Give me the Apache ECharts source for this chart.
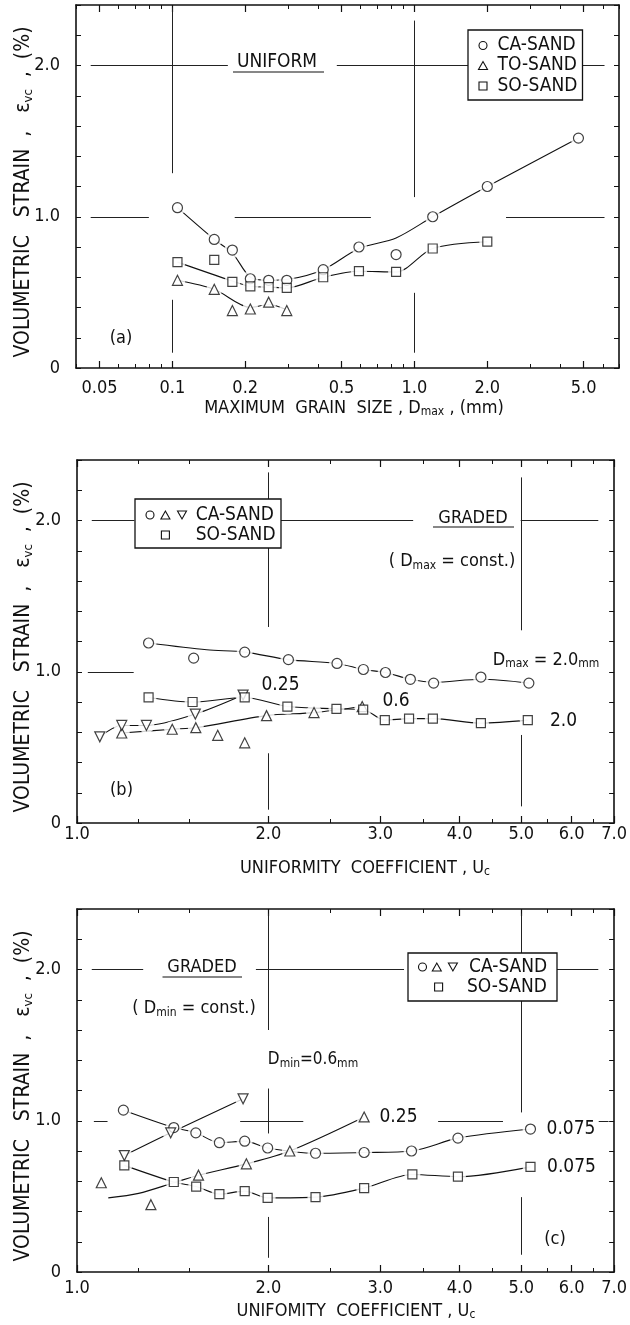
<!DOCTYPE html>
<html><head><meta charset="utf-8">
<script src="https://cdn.jsdelivr.net/npm/echarts@6/dist/echarts.min.js"></script>
<style>html,body{margin:0;padding:0;background:#fff}#c{width:630px;height:1325px}</style>
</head><body><div id="c"></div>
<script>
const FONT = "'DejaVu Sans Condensed','Liberation Sans Narrow','Roboto Condensed',sans-serif";
const INK = '#111';

// ---------- Panel (a): uniform sands, x = Dmax (mm) ----------
const aCaX = [0.105, 0.149, 0.177, 0.21, 0.25, 0.297, 0.42, 0.59, 0.84, 1.19, 2.0, 4.76];
const aCaY = [1.06, 0.85, 0.78, 0.59, 0.58, 0.58, 0.65, 0.80, 0.75, 1.00, 1.20, 1.52];
const aToX = [0.105, 0.149, 0.177, 0.21, 0.25, 0.297];
const aToY = [0.58, 0.52, 0.38, 0.39, 0.435, 0.38];
const aSoX = [0.105, 0.149, 0.177, 0.21, 0.25, 0.297, 0.42, 0.59, 0.84, 1.19, 2.0];
const aSoY = [0.70, 0.715, 0.57, 0.54, 0.535, 0.53, 0.60, 0.64, 0.635, 0.79, 0.835];
// fitted curves (a)
const aCaCurveX = [0.105, 0.149, 0.177, 0.21, 0.25, 0.297, 0.42, 0.59, 0.84, 1.19, 2.0, 4.76];
const aCaCurveY = [1.06, 0.85, 0.76, 0.60, 0.58, 0.585, 0.65, 0.79, 0.86, 1.00, 1.20, 1.52];
const aToCurveX = [0.105, 0.149, 0.21, 0.25, 0.297];
const aToCurveY = [0.58, 0.52, 0.40, 0.42, 0.385];
const aSoCurveX = [0.105, 0.177, 0.21, 0.25, 0.297, 0.42, 0.59, 0.84, 1.19, 2.0];
const aSoCurveY = [0.70, 0.575, 0.54, 0.535, 0.53, 0.60, 0.64, 0.635, 0.79, 0.835];

// ---------- Panel (b): graded, Dmax const, x = Uc ----------
const bCaX = [1.296, 1.526, 1.836, 2.151, 2.565, 2.822, 3.057, 3.346, 3.64, 4.32, 5.14];
const bCaY = [1.19, 1.09, 1.13, 1.08, 1.055, 1.015, 0.995, 0.95, 0.925, 0.965, 0.925];
const bUpX = [1.176, 1.412, 1.538, 1.665, 1.836, 1.987, 2.36, 2.81];
const bUpY = [0.595, 0.62, 0.63, 0.58, 0.53, 0.71, 0.73, 0.77];
const bDnX = [1.086, 1.176, 1.286, 1.535, 1.825];
const bDnY = [0.57, 0.645, 0.645, 0.72, 0.846];
const bSoX = [1.296, 1.52, 1.836, 2.143, 2.56, 2.82, 3.05, 3.33, 3.63, 4.32, 5.12];
const bSoY = [0.83, 0.80, 0.83, 0.77, 0.755, 0.75, 0.68, 0.69, 0.69, 0.66, 0.68];
const bCaCurveX = [1.296, 1.6, 1.836, 2.151, 2.565, 2.822, 3.057, 3.346, 3.64, 4.32, 5.14];
const bCaCurveY = [1.19, 1.145, 1.13, 1.08, 1.055, 1.015, 0.995, 0.95, 0.93, 0.95, 0.925];
const bUpCurveX = [1.176, 1.412, 1.538, 1.987, 2.36, 2.81];
const bUpCurveY = [0.595, 0.62, 0.63, 0.71, 0.73, 0.77];
const bDnCurveX = bDnX, bDnCurveY = bDnY;
const bSoCurveX = bSoX, bSoCurveY = bSoY;

// ---------- Panel (c): graded, Dmin const, x = Uc ----------
const cCaX = [1.183, 1.42, 1.538, 1.675, 1.836, 1.995, 2.373, 2.83, 3.36, 3.975, 5.17];
const cCaY = [1.07, 0.955, 0.92, 0.855, 0.865, 0.82, 0.785, 0.79, 0.80, 0.885, 0.945];
const cUpX = [1.092, 1.307, 1.553, 1.847, 2.162, 2.83];
const cUpY = [0.59, 0.445, 0.64, 0.715, 0.80, 1.025];
const cDnX = [1.187, 1.404, 1.825];
const cDnY = [0.77, 0.92, 1.145];
const cSoX = [1.187, 1.42, 1.54, 1.675, 1.836, 1.995, 2.373, 2.83, 3.37, 3.975, 5.17];
const cSoY = [0.705, 0.595, 0.565, 0.515, 0.535, 0.49, 0.495, 0.555, 0.645, 0.63, 0.695];
const cCaCurveX = cCaX, cCaCurveY = cCaY;
const cUpCurveX = [1.12, 1.25, 1.42, 1.553, 1.847, 2.162, 2.83];
const cUpCurveY = [0.49, 0.52, 0.59, 0.64, 0.715, 0.80, 1.025];
const cDnCurveX = cDnX, cDnCurveY = cDnY;
const cSoCurveX = cSoX, cSoCurveY = cSoY;

// ---------- Axis ticks ----------
const aMajor = [0.05, 0.1, 0.2, 0.5, 1.0, 2.0, 5.0];
const aMajorText = ['0.05', '0.1', '0.2', '0.5', '1.0', '2.0', '5.0'];
const aMinor = [0.04, 0.06, 0.07, 0.08, 0.09, 0.3, 0.4, 0.6, 0.7, 0.8, 0.9, 3, 4, 6, 7];
const ucMajor = [1, 2, 3, 4, 5, 6, 7];
const ucMajorText = ['1.0', '2.0', '3.0', '4.0', '5.0', '6.0', '7.0'];
const ucMinor = [1.25, 1.5, 2.5, 3.5, 4.5, 5.5, 6.5];
const yLabelVals = [0, 1, 2];
const yLabelText = ['0', '1.0', '2.0'];

// ---------- Broken reference lines [level, from, to] ----------
const aHSeg = [[2, 0.046, 0.1696], [2, 0.478, 1.664], [2, 4.95, 6.1], [1, 0.046, 0.080], [1, 0.181, 0.661], [1, 2.39, 6.1]];
const aVSeg = [[0.1, 1.288, 2.382], [0.1, 0.101, 0.451], [1.0, 1.13, 2.297], [1.0, 0.101, 0.497]];
const bHSeg = [[2, 1.055, 1.231], [2, 2.08, 3.38], [2, 4.99, 6.61], [1, 1.04, 1.228]];
const bVSeg = [[2, 1.296, 2.318], [2, 0.088, 0.461], [5, 1.274, 2.285], [5, 0.11, 0.582]];
const cHSeg = [[2, 1.055, 1.271], [2, 1.912, 3.27], [2, 5.58, 6.61], [1, 1.063, 1.117], [1, 1.806, 2.27], [1, 3.70, 4.68], [1, 6.62, 6.86]];
const cVSeg = [[2, 1.60, 2.37], [2, 0.916, 1.213], [2, 0.094, 0.364], [5, 1.055, 2.37], [5, 0.114, 0.495]];

// ================= build =================
const L = v => Math.log10(v);
const pts = (xs, ys) => xs.map((x, i) => [L(x), ys[i]]);

const grids = [
  {left: 76, top: 5, width: 543, height: 363},
  {left: 77, top: 460, width: 542, height: 363},
  {left: 77, top: 909, width: 542, height: 363}
];
const xr = [[L(0.04), L(7)], [0, L(7)], [0, L(7)]];
const labelMargins = [11, 2, 7];

const xAxes = [], yAxes = [];
function addAxes(g, major, majorText, minor) {
  const mv = major.map(L), nv = minor.map(L);
  const fmt = v => { for (let i = 0; i < mv.length; i++) if (Math.abs(mv[i] - v) < 1e-6) return majorText[i]; return ''; };
  const base = {gridIndex: g, type: 'value', min: xr[g][0], max: xr[g][1], splitLine: {show: false}};
  const line = {show: true, onZero: false, lineStyle: {color: INK, width: 1.6}};
  ['bottom', 'top'].forEach(pos => {
    xAxes.push(Object.assign({}, base, {position: pos, axisLine: line,
      axisTick: {show: true, inside: true, length: 7, customValues: mv, lineStyle: {color: INK, width: 1.2}},
      axisLabel: pos === 'bottom' ? {show: true, customValues: mv, formatter: fmt, margin: labelMargins[g], color: INK, fontSize: 18, fontFamily: FONT} : {show: false}}));
    xAxes.push(Object.assign({}, base, {position: pos, axisLine: {show: false, onZero: false},
      axisTick: {show: true, inside: true, length: 4, customValues: nv, lineStyle: {color: INK, width: 1}},
      axisLabel: {show: false}}));
  });
  const yfmt = v => { for (let i = 0; i < yLabelVals.length; i++) if (Math.abs(yLabelVals[i] - v) < 1e-6) return yLabelText[i]; return ''; };
  const ybase = {gridIndex: g, type: 'value', min: 0, max: 2.4, interval: 0.2, splitLine: {show: false}, axisLine: line,
    axisTick: {show: true, inside: true, length: 5, lineStyle: {color: INK, width: 1}}};
  yAxes.push(Object.assign({}, ybase, {position: 'left', axisLabel: {show: true, customValues: yLabelVals, formatter: yfmt, margin: 16, color: INK, fontSize: 18, fontFamily: FONT}}));
  yAxes.push(Object.assign({}, ybase, {position: 'right', axisLabel: {show: false}}));
}
addAxes(0, aMajor, aMajorText, aMinor);
addAxes(1, ucMajor, ucMajorText, ucMinor);
addAxes(2, ucMajor, ucMajorText, ucMinor);

const series = [];
function ax(g) { return {xAxisIndex: 4 * g, yAxisIndex: 2 * g}; }
function segs(g, h, v) {
  const data = [];
  h.forEach(s => data.push({coords: [[L(s[1]), s[0]], [L(s[2]), s[0]]]}));
  v.forEach(s => data.push({coords: [[L(s[0]), s[1]], [L(s[0]), s[2]]]}));
  series.push(Object.assign({type: 'lines', coordinateSystem: 'cartesian2d', silent: true, z: 1,
    lineStyle: {color: '#222', width: 1, opacity: 1}, data}, ax(g)));
}
function curve(g, xs, ys) {
  series.push(Object.assign({type: 'line', data: pts(xs, ys), showSymbol: false, smooth: 0.3, silent: true, z: 2,
    lineStyle: {color: INK, width: 1.1}}, ax(g)));
}
function knock(g, xs, ys) {
  series.push(Object.assign({type: 'scatter', data: pts(xs, ys), symbol: 'circle', symbolSize: 16, silent: true, z: 3,
    itemStyle: {color: '#fff'}}, ax(g)));
}
function marks(g, xs, ys, sym, size, rot) {
  series.push(Object.assign({type: 'scatter', data: pts(xs, ys), symbol: sym, symbolSize: size, symbolRotate: rot || 0, z: 4,
    itemStyle: {color: '#fff', borderColor: INK, borderWidth: 1.2}}, ax(g)));
}

segs(0, aHSeg, aVSeg);
curve(0, aCaCurveX, aCaCurveY); curve(0, aToCurveX, aToCurveY); curve(0, aSoCurveX, aSoCurveY);
knock(0, aCaX, aCaY); knock(0, aToX, aToY); knock(0, aSoX, aSoY);
marks(0, aCaX, aCaY, 'circle', 10); marks(0, aToX, aToY, 'triangle', 10); marks(0, aSoX, aSoY, 'rect', 9);

segs(1, bHSeg, bVSeg);
curve(1, bCaCurveX, bCaCurveY); curve(1, bUpCurveX, bUpCurveY); curve(1, bDnCurveX, bDnCurveY); curve(1, bSoCurveX, bSoCurveY);
knock(1, bCaX, bCaY); knock(1, bUpX, bUpY); knock(1, bDnX, bDnY); knock(1, bSoX, bSoY);
marks(1, bCaX, bCaY, 'circle', 10); marks(1, bUpX, bUpY, 'triangle', 10); marks(1, bDnX, bDnY, 'triangle', 10, 180); marks(1, bSoX, bSoY, 'rect', 9);

segs(2, cHSeg, cVSeg);
curve(2, cCaCurveX, cCaCurveY); curve(2, cUpCurveX, cUpCurveY); curve(2, cDnCurveX, cDnCurveY); curve(2, cSoCurveX, cSoCurveY);
knock(2, cCaX, cCaY); knock(2, cUpX, cUpY); knock(2, cDnX, cDnY); knock(2, cSoX, cSoY);
marks(2, cCaX, cCaY, 'circle', 10); marks(2, cUpX, cUpY, 'triangle', 10); marks(2, cDnX, cDnY, 'triangle', 10, 180); marks(2, cSoX, cSoY, 'rect', 9);

// ---------- graphic annotations ----------
const G = [];
const sub = {fontSize: 12, fontFamily: FONT, fill: INK, verticalAlign: 'bottom', lineHeight: 20};
function text(x, y, t, size, align, extra) {
  G.push(Object.assign({type: 'text', x, y, z: 100, style: {text: t, fontSize: size || 18, fontFamily: FONT, fill: INK,
    align: align || 'center', verticalAlign: 'middle',
    rich: {n: {fontSize: size || 18, fontFamily: FONT, fill: INK, lineHeight: 20}, s: Object.assign({}, sub)}}}, extra || {}));
}
function hline(x1, x2, y) { G.push({type: 'line', z: 100, shape: {x1, y1: y, x2, y2: y}, style: {stroke: INK, lineWidth: 1.2}}); }
function box(x, y, w, h) { G.push({type: 'rect', z: 99, shape: {x, y, width: w, height: h}, style: {fill: '#fff', stroke: INK, lineWidth: 1.3}}); }
function circ(x, y) { G.push({type: 'circle', z: 100, shape: {cx: x, cy: y, r: 4}, style: {fill: '#fff', stroke: INK, lineWidth: 1.1}}); }
function sq(x, y) { G.push({type: 'rect', z: 100, shape: {x: x - 4, y: y - 4, width: 8, height: 8}, style: {fill: '#fff', stroke: INK, lineWidth: 1.1}}); }
function tri(x, y, down) {
  const p = down ? [[x - 4.5, y - 4], [x + 4.5, y - 4], [x, y + 4]] : [[x - 4.5, y + 4], [x + 4.5, y + 4], [x, y - 4]];
  G.push({type: 'polygon', z: 100, shape: {points: p}, style: {fill: '#fff', stroke: INK, lineWidth: 1.1}});
}
const yTitle = '{n|VOLUMETRIC   STRAIN  ,   ε}{s|vc}{n|  ,  (%)}';
[192, 647, 1096].forEach(cy => G.push({type: 'text', x: 24, y: cy, z: 100, rotation: Math.PI / 2,
  style: {text: yTitle, fontSize: 21, fontFamily: FONT, fill: INK, align: 'center', verticalAlign: 'middle',
    rich: {n: {fontSize: 21, fontFamily: FONT, fill: INK, lineHeight: 22}, s: {fontSize: 13, fontFamily: FONT, fill: INK, verticalAlign: 'bottom', lineHeight: 22}}}}));

// (a)
text(354, 408, '{n|MAXIMUM  GRAIN  SIZE , D}{s|max}{n| , (mm)}', 18);
text(277, 62.5, 'UNIFORM', 19); hline(233, 324, 72);
box(468, 30, 114.5, 70);
circ(483, 45.5); text(497.5, 45.5, 'CA-SAND', 19, 'left');
tri(483, 65.5); text(497.5, 65.5, 'TO-SAND', 19, 'left');
sq(483, 86); text(497.5, 86, 'SO-SAND', 19, 'left');
text(121, 338, '(a)', 18);

// (b)
text(365, 868, '{n|UNIFORMITY  COEFFICIENT , U}{s|c}', 18);
box(135, 499, 146, 49);
circ(150, 515); tri(165.4, 515); tri(182, 515, true); text(195.7, 515, 'CA-SAND', 19, 'left');
sq(165.4, 535); text(195.7, 535, 'SO-SAND', 19, 'left');
text(473, 518.5, 'GRADED', 18); hline(433, 514, 527);
text(452, 561.5, '{n|( D}{s|max}{n| = const.)}', 18);
text(546, 660, '{n|D}{s|max}{n| = 2.0}{s|mm}', 18);
text(280.5, 685.5, '0.25', 19);
text(396, 701.5, '0.6', 19);
text(563.5, 721, '2.0', 19);
text(121.5, 790, '(b)', 18);

// (c)
text(356, 1311, '{n|UNIFOMITY  COEFFICIENT , U}{s|c}', 18);
text(202, 967.5, 'GRADED', 18); hline(162.5, 242, 977);
text(194, 1008.5, '{n|( D}{s|min}{n| = const.)}', 18);
box(408, 953, 149, 48);
circ(422.5, 967); tri(436.8, 967); tri(452.9, 967, true); text(469, 967, 'CA-SAND', 19, 'left');
sq(438.6, 987); text(467, 987, 'SO-SAND', 19, 'left');
text(313, 1060, '{n|D}{s|min}{n|=0.6}{s|mm}', 17);
text(398.5, 1117.5, '0.25', 19);
text(571, 1129.5, '0.075', 19);
text(571.5, 1167.5, '0.075', 19);
text(555, 1239.5, '(c)', 18);

const chart = echarts.init(document.getElementById('c'), null, {renderer: 'canvas'});
chart.setOption({
  animation: false,
  backgroundColor: '#fff',
  grid: grids,
  xAxis: xAxes,
  yAxis: yAxes,
  series,
  graphic: G
});
</script></body></html>
